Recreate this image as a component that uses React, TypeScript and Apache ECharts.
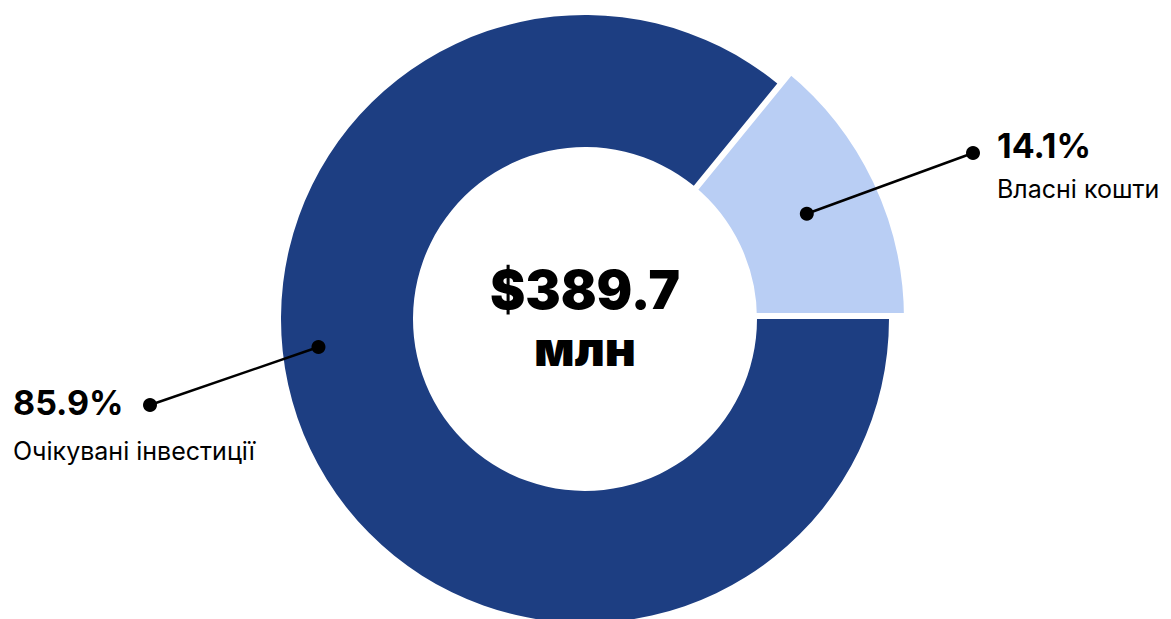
import React, { useEffect, useRef } from "react";
import * as echarts from "echarts";

// ---- data ----
const categories: string[] = ["Власні кошти", "Очікувані інвестиції"];
const shares: number[] = [14.1, 85.9];
const shareLabels: string[] = ["14.1%", "85.9%"];
const totalText = "$389.7";
const unitText = "млн";

// ---- styling / layout ----
const W = 1171;
const H = 619;
const CX = 585;
const CY = 319;
const R_IN = 172;
const R_OUT = 304;
const R_OUT_LIGHT = 319;
const GAP = 6;
const DARK = "#1D3E82";
const LIGHT = "#B9CEF4";
const FONT = "Inter, 'Noto Sans', sans-serif";

function polar(angleDeg: number, r: number): [number, number] {
  const a = (angleDeg * Math.PI) / 180;
  return [CX + r * Math.cos(a), CY - r * Math.sin(a)];
}

export default function App() {
  const ref = useRef<HTMLDivElement>(null);

  useEffect(() => {
    document.body.style.margin = "0";
    if (!ref.current) return;
    const chart = echarts.init(ref.current, undefined, { renderer: "svg" });

    const total = shares.reduce((a, b) => a + b, 0);
    const startAngle = (shares[0] / total) * 360;
    const lightMid = startAngle - startAngle / 2;
    const lightDot = polar(lightMid, (R_IN + R_OUT_LIGHT) / 2);
    const darkDot = polar(186, 268);
    const rightDot: [number, number] = [973, 153];
    const leftDot: [number, number] = [150, 405];
    const transparent = "rgba(0,0,0,0)";

    const dot = (p: [number, number]) => ({
      type: "circle",
      z: 100,
      shape: { cx: p[0], cy: p[1], r: 7 },
      style: { fill: "#000" },
      silent: true,
    });
    const line = (a: [number, number], b: [number, number]) => ({
      type: "line",
      z: 100,
      shape: { x1: a[0], y1: a[1], x2: b[0], y2: b[1] },
      style: { stroke: "#000", lineWidth: 2.5 },
      silent: true,
    });
    const text = (
      t: string,
      x: number,
      y: number,
      size: number,
      weight: number | string,
      align = "left"
    ) => ({
      type: "text",
      z: 100,
      x,
      y,
      silent: true,
      style: {
        text: t,
        fill: "#000",
        fontSize: size,
        fontWeight: weight,
        fontFamily: FONT,
        textAlign: align,
        textVerticalAlign: "middle",
      },
    });

    chart.setOption({
      animation: false,
      backgroundColor: "#fff",
      series: [
        {
          type: "pie",
          z: 1,
          silent: true,
          center: [CX, CY],
          radius: [R_IN - GAP, R_OUT_LIGHT + GAP],
          startAngle,
          clockwise: true,
          label: { show: false },
          labelLine: { show: false },
          data: [
            {
              name: categories[0],
              value: shares[0],
              itemStyle: { color: LIGHT, borderColor: "#fff", borderWidth: GAP * 2 },
            },
            {
              name: categories[1],
              value: shares[1],
              itemStyle: { color: transparent, borderWidth: 0 },
            },
          ],
        },
        {
          type: "pie",
          z: 2,
          silent: true,
          center: [CX, CY],
          radius: [R_IN, R_OUT],
          startAngle,
          clockwise: true,
          label: { show: false },
          labelLine: { show: false },
          data: [
            {
              name: categories[0],
              value: shares[0],
              itemStyle: { color: transparent, borderWidth: 0 },
            },
            {
              name: categories[1],
              value: shares[1],
              itemStyle: { color: DARK, borderWidth: 0 },
            },
          ],
        },
      ],
      graphic: {
        elements: [
          line(lightDot, rightDot),
          dot(lightDot),
          dot(rightDot),
          line(darkDot, leftDot),
          dot(darkDot),
          dot(leftDot),
          text(shareLabels[0], 997, 145, 34, 700),
          text(categories[0], 997, 189, 25, 400),
          text(shareLabels[1], 13, 402, 34, 700),
          text(categories[1], 13, 451, 25, 400),
          text(totalText, CX, 290, 53, 900, "center"),
          text(unitText, CX, 348, 48, 900, "center"),
        ],
      },
    });

    return () => chart.dispose();
  }, []);

  return (
    <div
      ref={ref}
      style={{ position: "absolute", left: 0, top: 0, width: W, height: H }}
    />
  );
}
